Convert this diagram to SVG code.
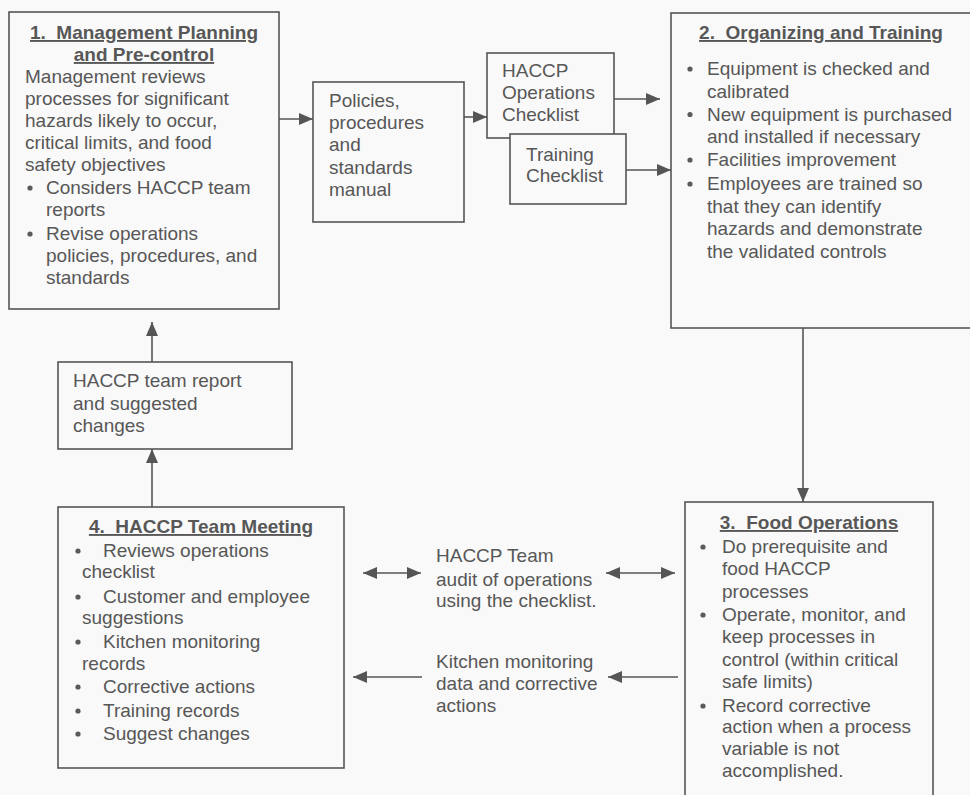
<svg xmlns="http://www.w3.org/2000/svg" width="970" height="795" viewBox="0 0 970 795">
<style>
text{font-family:"Liberation Sans",Arial,sans-serif;font-size:19px;fill:#575757}
.t{font-weight:bold;text-decoration:underline;text-anchor:middle;white-space:pre}
.box{fill:none;stroke:#555;stroke-width:1.6}
.ln{stroke:#555;stroke-width:1.6;fill:none}
.b{fill:#5a5a5a}
</style>
<defs>
<marker id="ah" markerUnits="userSpaceOnUse" viewBox="0 0 14 12" refX="14" refY="6" markerWidth="14" markerHeight="12" orient="auto-start-reverse">
<path d="M0,0 L14,6 L0,12 z" fill="#555"/>
</marker>
</defs>
<rect width="970" height="795" fill="#f9f9f9"/>

<g id="node1">
<rect class="box" x="9" y="12" width="270" height="297"/>
<text class="t" x="144" y="39" xml:space="preserve">1.  Management Planning</text>
<text class="t" x="144" y="61">and Pre-control</text>
<text x="25" y="83">Management reviews</text>
<text x="25" y="105">processes for significant</text>
<text x="25" y="127">hazards likely to occur,</text>
<text x="25" y="149">critical limits, and food</text>
<text x="25" y="171">safety objectives</text>
<circle class="b" cx="30" cy="188" r="2.6"/>
<text x="46" y="194">Considers HACCP team</text>
<text x="46" y="216">reports</text>
<circle class="b" cx="30" cy="234" r="2.6"/>
<text x="46" y="240">Revise operations</text>
<text x="46" y="262">policies, procedures, and</text>
<text x="46" y="284">standards</text>
</g>

<g id="policies">
<rect class="box" x="313" y="82" width="151" height="140"/>
<text x="329" y="107">Policies,</text>
<text x="329" y="129">procedures</text>
<text x="329" y="151">and</text>
<text x="329" y="174">standards</text>
<text x="329" y="196">manual</text>
</g>

<g id="opsChecklist">
<rect class="box" x="487" y="53" width="127" height="85"/>
<text x="502" y="77">HACCP</text>
<text x="502" y="99">Operations</text>
<text x="502" y="121">Checklist</text>
</g>

<g id="trainingChecklist">
<rect x="510" y="134" width="116" height="70" fill="#f9f9f9" stroke="#555" stroke-width="1.6"/>
<text x="526" y="161">Training</text>
<text x="526" y="182">Checklist</text>
</g>

<g id="node2">
<rect class="box" x="671" y="13" width="320" height="315"/>
<text class="t" x="821" y="39" xml:space="preserve">2.  Organizing and Training</text>
<circle class="b" cx="690" cy="69" r="2.6"/>
<text x="707" y="75">Equipment is checked and</text>
<text x="707" y="97.5">calibrated</text>
<circle class="b" cx="690" cy="114.5" r="2.6"/>
<text x="707" y="120.5">New equipment is purchased</text>
<text x="707" y="143">and installed if necessary</text>
<circle class="b" cx="690" cy="160" r="2.6"/>
<text x="707" y="166">Facilities improvement</text>
<circle class="b" cx="690" cy="184" r="2.6"/>
<text x="707" y="190">Employees are trained so</text>
<text x="707" y="212.5">that they can identify</text>
<text x="707" y="235">hazards and demonstrate</text>
<text x="707" y="257.5">the validated controls</text>
</g>

<g id="node3">
<rect class="box" x="685" y="502" width="248" height="310"/>
<text class="t" x="809" y="529" xml:space="preserve">3.  Food Operations</text>
<circle class="b" cx="703" cy="547" r="2.6"/>
<text x="722" y="553">Do prerequisite and</text>
<text x="722" y="575">food HACCP</text>
<text x="722" y="598">processes</text>
<circle class="b" cx="703" cy="615" r="2.6"/>
<text x="722" y="621">Operate, monitor, and</text>
<text x="722" y="643">keep processes in</text>
<text x="722" y="666">control (within critical</text>
<text x="722" y="688">safe limits)</text>
<circle class="b" cx="703" cy="706" r="2.6"/>
<text x="722" y="712">Record corrective</text>
<text x="722" y="733">action when a process</text>
<text x="722" y="755">variable is not</text>
<text x="722" y="777">accomplished.</text>
</g>

<g id="node4">
<rect class="box" x="58" y="507" width="286" height="261"/>
<text class="t" x="201" y="533" xml:space="preserve">4.  HACCP Team Meeting</text>
<circle class="b" cx="78" cy="551" r="2.6"/>
<text x="103" y="557">Reviews operations</text>
<text x="82" y="578">checklist</text>
<circle class="b" cx="78" cy="597" r="2.6"/>
<text x="103" y="603">Customer and employee</text>
<text x="82" y="624">suggestions</text>
<circle class="b" cx="78" cy="642" r="2.6"/>
<text x="103" y="648">Kitchen monitoring</text>
<text x="82" y="670">records</text>
<circle class="b" cx="78" cy="687" r="2.6"/>
<text x="103" y="693">Corrective actions</text>
<circle class="b" cx="78" cy="711" r="2.6"/>
<text x="103" y="717">Training records</text>
<circle class="b" cx="78" cy="734" r="2.6"/>
<text x="103" y="740">Suggest changes</text>
</g>

<g id="teamReport">
<rect class="box" x="58" y="362" width="234" height="87"/>
<text x="73" y="387">HACCP team report</text>
<text x="73" y="410">and suggested</text>
<text x="73" y="432">changes</text>
</g>

<g id="auditLabel">
<text x="436" y="562">HACCP Team</text>
<text x="436" y="586">audit of operations</text>
<text x="436" y="607">using the checklist.</text>
</g>

<g id="kitchenLabel">
<text x="436" y="668">Kitchen monitoring</text>
<text x="436" y="690">data and corrective</text>
<text x="436" y="712">actions</text>
</g>

<g id="connectors">
<line class="ln" x1="279" y1="119" x2="313" y2="119" marker-end="url(#ah)"/>
<line class="ln" x1="464" y1="117" x2="487" y2="117" marker-end="url(#ah)"/>
<line class="ln" x1="614" y1="99" x2="660" y2="99" marker-end="url(#ah)"/>
<line class="ln" x1="626" y1="170" x2="671" y2="170" marker-end="url(#ah)"/>
<line class="ln" x1="803" y1="328" x2="803" y2="502" marker-end="url(#ah)"/>
<line class="ln" x1="152" y1="507" x2="152" y2="449" marker-end="url(#ah)"/>
<line class="ln" x1="152" y1="362" x2="152" y2="322" marker-end="url(#ah)"/>
<line class="ln" x1="363" y1="573" x2="421" y2="573" marker-start="url(#ah)" marker-end="url(#ah)"/>
<line class="ln" x1="606" y1="573" x2="675" y2="573" marker-start="url(#ah)" marker-end="url(#ah)"/>
<line class="ln" x1="422" y1="677" x2="353" y2="677" marker-end="url(#ah)"/>
<line class="ln" x1="678" y1="677" x2="608" y2="677" marker-end="url(#ah)"/>
</g>
</svg>
